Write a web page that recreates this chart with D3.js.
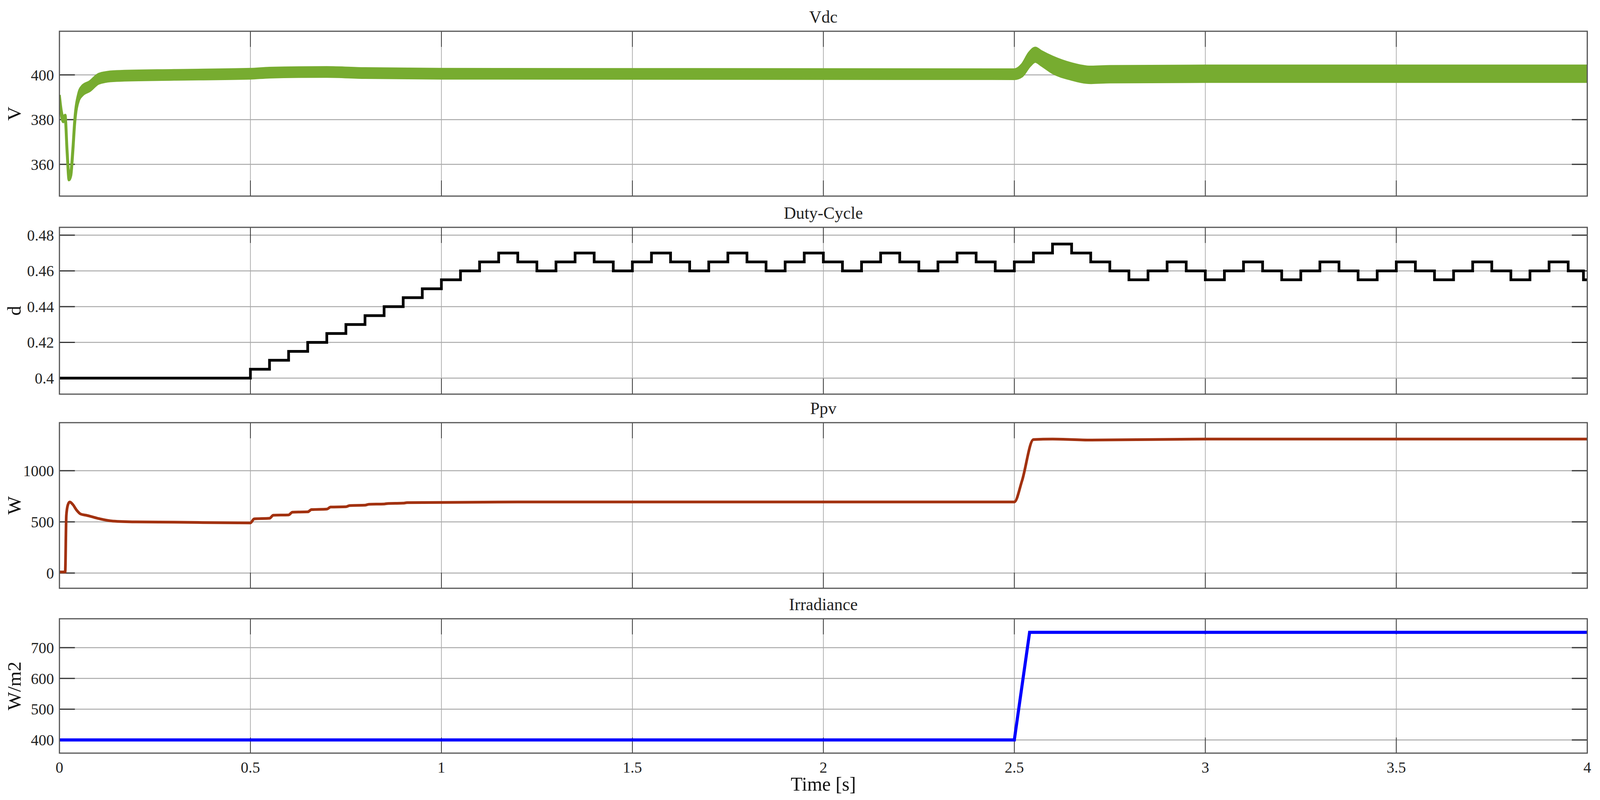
<!DOCTYPE html>
<html><head><meta charset="utf-8">
<script src="https://cdn.jsdelivr.net/npm/d3@7"></script>
<style>html,body{margin:0;padding:0;background:#fff;overflow:hidden;width:100%;height:100%}svg{display:block;width:100vw;height:100vh}</style>
</head><body><div id="chart"></div>
<script>
const width = 4146, height = 2048;

// Vdc: centre line and ripple half-width (V)
const vdcT    = [0, 0.005, 0.01, 0.015, 0.02, 0.025, 0.03, 0.035, 0.04, 0.05, 0.06, 0.08, 0.1, 0.12, 0.15, 0.3, 0.5, 0.55, 0.7, 0.8, 1.0, 2.5, 2.52, 2.54, 2.555, 2.57, 2.6, 2.65, 2.7, 2.75, 3.0, 4.0];
const vdcMid  = [390, 383, 380, 381, 366, 354, 356, 366, 379, 390, 393, 395, 398, 399, 399.5, 400, 400.5, 401, 401.3, 400.8, 400.5, 400.3, 402, 407, 409, 407.5, 404.5, 401.5, 400, 400.3, 400.5, 400.5];
const vdcHalf = [1, 1, 1, 1, 1, 1, 1, 1, 1, 1.5, 2, 2, 2, 2, 2, 2, 2, 2, 2, 2, 2, 2, 2.5, 3, 3, 3, 3.5, 3.5, 3.5, 3.5, 3.5, 3.5];

// Duty cycle levels, one per 0.05 s from t = 0
const dutyLevels = [
  0.40,0.40,0.40,0.40,0.40,0.40,0.40,0.40,0.40,0.40,
  0.405,0.41,0.415,0.42,0.425,0.43,0.435,0.44,0.445,0.45,0.455,0.46,0.465,0.47,
  0.465,0.46,0.465,0.47,0.465,0.46,0.465,0.47,0.465,0.46,0.465,0.47,0.465,0.46,0.465,0.47,0.465,0.46,0.465,0.47,0.465,0.46,0.465,0.47,0.465,0.46,
  0.465,0.47,0.475,0.47,0.465,0.46,0.455,0.46,0.465,0.46,0.455,0.46,0.465,0.46,0.455,0.46,0.465,0.46,0.455,0.46,0.465,0.46,0.455,0.46,0.465,0.46,0.455,0.46,0.465,0.46
];
const dutyStep = 0.05;

// PV power
const ppvT = [0, 0.015, 0.018, 0.022, 0.027, 0.035, 0.045, 0.056, 0.07, 0.1, 0.14, 0.2, 0.3, 0.5, 0.51, 0.55, 0.56, 0.6, 0.61, 0.65, 0.66, 0.7, 0.71, 0.75, 0.76, 0.8, 0.81, 0.85, 0.86, 0.9, 0.91, 1.0, 1.2, 2.5, 2.52, 2.55, 2.6, 2.7, 3.0, 4.0];
const ppvV = [10, 10, 560, 665, 695, 670, 615, 576, 565, 535, 508, 500, 497, 490, 530, 535, 565, 568, 595, 598, 620, 625, 645, 648, 660, 663, 672, 675, 680, 683, 688, 690, 695, 695, 900, 1305, 1310, 1300, 1310, 1310];

// Irradiance
const irrT = [0, 2.5, 2.54, 4.0];
const irrV = [400, 400, 750, 750];

const xTicks = [0, 0.5, 1, 1.5, 2, 2.5, 3, 3.5, 4];

const panels = [
  {title: "Vdc", ylabel: "V", top: 80, bottom: 502, domain: [345.8, 419.5], ticks: [360, 380, 400], fmt: d => d},
  {title: "Duty-Cycle", ylabel: "d", top: 582, bottom: 1009, domain: [0.39104, 0.48437], ticks: [0.40, 0.42, 0.44, 0.46, 0.48], fmt: d => d === 0.4 ? "0.4" : d3.format(".2f")(d)},
  {title: "Ppv", ylabel: "W", top: 1082, bottom: 1506, domain: [-149, 1470], ticks: [0, 500, 1000], fmt: d => d},
  {title: "Irradiance", ylabel: "W/m2", top: 1584, bottom: 1928, domain: [357, 794], ticks: [400, 500, 600, 700], fmt: d => d}
];

const left = 154, right = 4113;
const x = d3.scaleLinear().domain([0, 4]).range([left, right]);

const svg = d3.select("#chart").append("svg")
  .attr("viewBox", `0 0 ${width} ${height}`)
  .attr("preserveAspectRatio", "none")
  .style("font-family", "'Liberation Serif', 'DejaVu Serif', serif");

panels.forEach((p, i) => {
  const y = d3.scaleLinear().domain(p.domain).range([p.bottom, p.top]);
  p.y = y;
  const g = svg.append("g");
  // grid
  g.selectAll(".vg").data(xTicks).enter().append("line")
    .attr("x1", d => x(d)).attr("x2", d => x(d)).attr("y1", p.top).attr("y2", p.bottom)
    .attr("stroke", "#999").attr("stroke-width", 1.5);
  g.selectAll(".hg").data(p.ticks).enter().append("line")
    .attr("x1", left).attr("x2", right).attr("y1", d => y(d)).attr("y2", d => y(d))
    .attr("stroke", "#aaa").attr("stroke-width", 2.5);
  // inward ticks
  p.ticks.forEach(t => {
    [[left, left + 40], [right - 40, right]].forEach(([a, b]) =>
      g.append("line").attr("x1", a).attr("x2", b).attr("y1", y(t)).attr("y2", y(t)).attr("stroke", "#333").attr("stroke-width", 3));
  });
  xTicks.forEach(t => {
    [[p.top, p.top + 40], [p.bottom - 40, p.bottom]].forEach(([a, b]) =>
      g.append("line").attr("x1", x(t)).attr("x2", x(t)).attr("y1", a).attr("y2", b).attr("stroke", "#333").attr("stroke-width", 2));
  });
  // tick labels
  g.selectAll(".tl").data(p.ticks).enter().append("text")
    .attr("x", left - 14).attr("y", d => y(d) + 14)
    .attr("text-anchor", "end").attr("font-size", 40).attr("fill", "#222")
    .text(p.fmt);
  // title
  svg.append("text").attr("x", (left + right) / 2).attr("y", p.top - 22)
    .attr("text-anchor", "middle").attr("font-size", 44).attr("fill", "#222").text(p.title);
  // y label
  svg.append("text")
    .attr("transform", `translate(${54},${(p.top + p.bottom) / 2}) rotate(-90)`)
    .attr("text-anchor", "middle").attr("font-size", 50).attr("fill", "#111").text(p.ylabel);
});

const clip = (p, id) => {
  svg.append("clipPath").attr("id", id).append("rect")
    .attr("x", left).attr("y", p.top).attr("width", right - left).attr("height", p.bottom - p.top);
  return `url(#${id})`;
};

// Vdc band
{
  const p = panels[0];
  const data = vdcT.map((t, i) => ({t, m: vdcMid[i], h: vdcHalf[i]}));
  const area = d3.area().x(d => x(d.t)).y0(d => p.y(d.m - d.h)).y1(d => p.y(d.m + d.h)).curve(d3.curveMonotoneX);
  svg.append("path").datum(data).attr("d", area).attr("fill", "#77ac30")
    .attr("stroke", "#77ac30").attr("stroke-width", 7).attr("clip-path", clip(p, "c0"));
}
// Duty steps
{
  const p = panels[1];
  const pts = dutyLevels.map((v, i) => [i * dutyStep, v]);
  pts.push([3.99, 0.455]); pts.push([4.0, 0.455]);
  const line = d3.line().x(d => x(d[0])).y(d => p.y(d[1])).curve(d3.curveStepAfter);
  svg.append("path").datum(pts).attr("d", line).attr("fill", "none")
    .attr("stroke", "#000").attr("stroke-width", 7).attr("clip-path", clip(p, "c1"));
}
// Ppv
{
  const p = panels[2];
  const line = d3.line().x((d, i) => x(ppvT[i])).y(d => p.y(d)).curve(d3.curveMonotoneX);
  svg.append("path").datum(ppvV).attr("d", line).attr("fill", "none")
    .attr("stroke", "#a2310f").attr("stroke-width", 7).attr("clip-path", clip(p, "c2"));
}
// Irradiance
{
  const p = panels[3];
  const line = d3.line().x((d, i) => x(irrT[i])).y(d => p.y(d));
  svg.append("path").datum(irrV).attr("d", line).attr("fill", "none")
    .attr("stroke", "#0000ff").attr("stroke-width", 8).attr("clip-path", clip(p, "c3"));
}

// frames on top
panels.forEach(p => {
  svg.append("rect").attr("x", left).attr("y", p.top).attr("width", right - left).attr("height", p.bottom - p.top)
    .attr("fill", "none").attr("stroke", "#555").attr("stroke-width", 3);
});

// x tick labels
const last = panels[3];
svg.selectAll(".xl").data(xTicks).enter().append("text")
  .attr("x", d => x(d)).attr("y", last.bottom + 50)
  .attr("text-anchor", "middle").attr("font-size", 40).attr("fill", "#222")
  .text(d => d);
svg.append("text").attr("x", (left + right) / 2).attr("y", last.bottom + 96)
  .attr("text-anchor", "middle").attr("font-size", 50).attr("fill", "#111").text("Time [s]");
</script></body></html>
